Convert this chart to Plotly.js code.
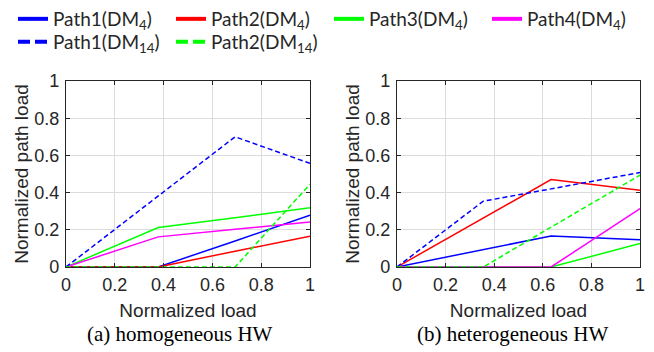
<!DOCTYPE html>
<html>
<head>
<meta charset="utf-8">
<script src="https://cdn.plot.ly/plotly-3.0.1.min.js"></script>
<style>
html,body{margin:0;padding:0;background:#fff;}
#chart{width:654px;height:352px;}
</style>
</head>
<body>
<div id="chart"></div>
<script>
// ---- data ----
const seriesNames = ['Path1(DM<sub>4</sub>)', 'Path2(DM<sub>4</sub>)', 'Path3(DM<sub>4</sub>)', 'Path4(DM<sub>4</sub>)', 'Path1(DM<sub>14</sub>)', 'Path2(DM<sub>14</sub>)'];
const seriesColors = ['#0000ff', '#ff0000', '#00ff00', '#ff00ff', '#0000ff', '#00ff00'];
const seriesDashed = [false, false, false, false, true, true];
const legendRow = ['legend', 'legend', 'legend', 'legend', 'legend2', 'legend2'];

// (a) homogeneous HW
const loadA = [0, 0.378, 0.693, 1];
const homPath1DM4  = [0, 0, 0.14, 0.278];
const homPath2DM4  = [0, 0, 0.085, 0.165];
const homPath3DM4  = [0, 0.212, 0.265, 0.318];
const homPath4DM4  = [0, 0.162, 0.203, 0.242];
const homPath1DM14 = [0, 0.38, 0.70, 0.557];
const homPath2DM14 = [0, 0, 0, 0.445];

// (b) heterogeneous HW
const loadB = [0, 0.355, 0.634, 1];
const hetPath1DM4  = [0, 0.094, 0.167, 0.147];
const hetPath2DM4  = [0, 0.263, 0.47, 0.413];
const hetPath3DM4  = [0, 0, 0, 0.126];
const hetPath4DM4  = [0, 0, 0, 0.314];
const hetPath1DM14 = [0, 0.354, 0.42, 0.508];
const hetPath2DM14 = [0, 0, 0.214, 0.494];

const tickVals = [0, 0.2, 0.4, 0.6, 0.8, 1];
const tickText = ['0', '0.2', '0.4', '0.6', '0.8', '1'];
const xTitle = 'Normalized load';
const yTitle = 'Normalized path load';
const captions = ['(a) homogeneous HW', '(b) heterogeneous HW'];

const homSeries = [homPath1DM4, homPath2DM4, homPath3DM4, homPath4DM4, homPath1DM14, homPath2DM14];
const hetSeries = [hetPath1DM4, hetPath2DM4, hetPath3DM4, hetPath4DM4, hetPath1DM14, hetPath2DM14];

// ---- traces ----
const traces = [];
function addPanel(xs, series, xa, ya) {
  series.forEach((ys, i) => {
    traces.push({
      type: 'scatter', mode: 'lines', x: xs, y: ys, xaxis: xa, yaxis: ya,
      showlegend: false, hoverinfo: 'skip', cliponaxis: true,
      line: {color: seriesColors[i], width: 1.5, dash: seriesDashed[i] ? '5px,3px' : 'solid'}
    });
  });
}
addPanel(loadA, homSeries, 'x', 'y');
addPanel(loadB, hetSeries, 'x2', 'y2');

// legend keys (thick line samples)
seriesNames.forEach((name, i) => {
  traces.push({
    type: 'scatter', mode: 'lines', x: [null], y: [null], name: name,
    xaxis: 'x', yaxis: 'y', showlegend: true, hoverinfo: 'skip', legend: legendRow[i],
    line: {color: seriesColors[i], width: 4, dash: seriesDashed[i] ? '12px,5px' : 'solid'}
  });
});

const SANS = "'Liberation Sans', Arial, sans-serif";
const tickFont = {family: SANS, size: 18, color: '#262626'};
const titleFont = {family: SANS, size: 19, color: '#262626'};

function xAxis(domain, anchor) {
  return {
    domain: domain, anchor: anchor, range: [0, 1], fixedrange: true,
    tickmode: 'array', tickvals: tickVals, ticktext: tickText,
    ticks: 'inside', ticklen: 4, tickcolor: '#262626', tickwidth: 1,
    showline: true, linecolor: '#262626', linewidth: 1.2, mirror: 'ticks',
    showgrid: true, gridcolor: '#dcdcdc', gridwidth: 1, zeroline: false,
    tickfont: tickFont, ticklabelstandoff: 1,
    title: {text: xTitle, font: titleFont, standoff: 10}
  };
}
function yAxis(domain, anchor) {
  return {
    domain: domain, anchor: anchor, range: [0, 1], fixedrange: true,
    tickmode: 'array', tickvals: tickVals, ticktext: tickText,
    ticks: 'inside', ticklen: 4, tickcolor: '#262626', tickwidth: 1,
    showline: true, linecolor: '#262626', linewidth: 1.2, mirror: 'ticks',
    showgrid: true, gridcolor: '#dcdcdc', gridwidth: 1, zeroline: false,
    tickfont: tickFont, ticklabelstandoff: 2,
    title: {text: yTitle, font: titleFont, standoff: 0}
  };
}

const W = 654, H = 352;
const yDom = [(H - 267) / H, (H - 81) / H];

const legendBase = {
  orientation: 'h', x: 13 / W, xanchor: 'left', yanchor: 'top',
  entrywidth: 113, entrywidthmode: 'pixels', itemwidth: 30,
  font: {family: "Lato, 'Open Sans', sans-serif", size: 19, color: '#262626'},
  bgcolor: 'rgba(0,0,0,0)', borderwidth: 0, tracegroupgap: 0
};

const layout = {
  width: W, height: H,
  margin: {l: 0, r: 0, t: 0, b: 0},
  paper_bgcolor: '#ffffff', plot_bgcolor: '#ffffff',
  showlegend: true,
  legend: Object.assign({}, legendBase, {y: 1}),
  legend2: Object.assign({}, legendBase, {y: 1 - 23 / H}),
  xaxis: xAxis([66 / W, 310 / W], 'y'),
  yaxis: yAxis(yDom, 'x'),
  xaxis2: xAxis([397 / W, 640 / W], 'y2'),
  yaxis2: yAxis(yDom, 'x2'),
  annotations: [
    {text: captions[0], xref: 'paper', yref: 'paper', x: 180 / W, y: 1 - 334 / H, xanchor: 'center', yanchor: 'middle', showarrow: false,
     font: {family: "'Liberation Serif', 'Times New Roman', serif", size: 21, color: '#000000'}},
    {text: captions[1], xref: 'paper', yref: 'paper', x: 512 / W, y: 1 - 334 / H, xanchor: 'center', yanchor: 'middle', showarrow: false,
     font: {family: "'Liberation Serif', 'Times New Roman', serif", size: 21, color: '#000000'}}
  ]
};

Plotly.newPlot('chart', traces, layout, {staticPlot: true, displayModeBar: false});
</script>
</body>
</html>
